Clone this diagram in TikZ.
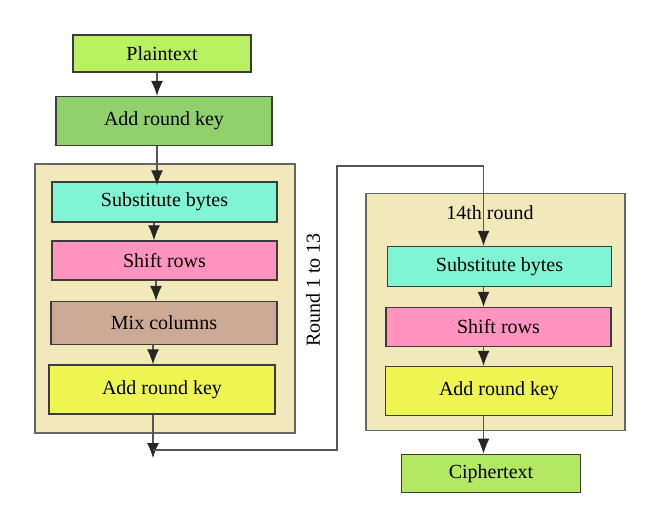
\documentclass[tikz,border=0pt]{standalone}
\usepackage{fontspec}
\setmainfont{Liberation Serif}
\usetikzlibrary{arrows.meta}
\definecolor{cPlain}{HTML}{B8F060}
\definecolor{cArkTop}{HTML}{90D16C}
\definecolor{cBeige}{HTML}{F2E9BA}
\definecolor{cSub}{HTML}{80F5D3}
\definecolor{cShift}{HTML}{FF95BF}
\definecolor{cMix}{HTML}{CDAA97}
\definecolor{cArk}{HTML}{EEF550}
\definecolor{cCipher}{HTML}{B5E862}
\definecolor{cBorder}{HTML}{3C3C3C}
\definecolor{cOuter}{HTML}{666666}
\definecolor{cLine}{HTML}{555555}
\begin{document}
\begin{tikzpicture}[x=1pt,y=-1pt,
  blk/.style={draw=cBorder, line width=1.3pt, inner sep=0pt, font=\fontsize{20}{24}\selectfont},
  outer/.style={draw=cOuter, line width=1.3pt, fill=cBeige, inner sep=0pt},
  lbl/.style={inner sep=0pt, font=\fontsize{20}{24}\selectfont},
  conn/.style={draw=cLine, line width=1.1pt},
  arr/.style={conn, -{Latex[length=15pt,width=12pt,color=black!85]}}]
\useasboundingbox (0,0) rectangle (660,529);
% outer boxes
\node[outer, minimum width=260pt, minimum height=269pt] (outerL) at (165,298.5) {};
\node[outer, minimum width=259pt, minimum height=237pt] (outerR) at (495.5,312) {};
% left column
\node[blk, fill=cPlain, minimum width=178pt, minimum height=37pt] (pt) at (162,53.5) {Plaintext};
\node[blk, fill=cArkTop, minimum width=216pt, minimum height=49pt] (ark0) at (164,121) {Add round key};
\node[blk, fill=cSub, minimum width=225pt, minimum height=40pt] (sb1) at (164.5,202) {Substitute bytes};
\node[blk, fill=cShift, minimum width=225pt, minimum height=39pt] (sr1) at (164.5,260.5) {Shift rows};
\node[blk, fill=cMix, minimum width=226pt, minimum height=43pt] (mc1) at (164,323) {Mix columns};
\node[blk, fill=cArk, minimum width=226pt, minimum height=49pt] (ar1) at (162,389.5) {Add round key};
\node[lbl, rotate=90] (rlab) at (313,290) {Round 1 to 13};
% right column
\node[lbl] (t14) at (490,213) {14th round};
\node[blk, fill=cSub, minimum width=224pt, minimum height=40pt] (sb2) at (499.5,266.5) {Substitute bytes};
\node[blk, fill=cShift, minimum width=225pt, minimum height=39pt] (sr2) at (498.5,327) {Shift rows};
\node[blk, fill=cArk, minimum width=227pt, minimum height=49pt] (ar2) at (499,391) {Add round key};
\node[blk, fill=cCipher, minimum width=179pt, minimum height=38pt] (ct) at (491,473.3) {Ciphertext};
% column coordinates
\coordinate (xa) at (157,0);
\coordinate (xb) at (154,0);
\coordinate (xc) at (156,0);
\coordinate (xd) at (153,0);
\coordinate (xr) at (483.5,0);
\coordinate (e1) at (153,458);
\coordinate (lp) at (153,450);
\coordinate (c1) at (337,450);
\coordinate (c2) at (337,166);
\coordinate (c3) at (483.5,166);
% arrows
\draw[arr] (pt.south -| xa) -- (ark0.north -| xa);
\draw[arr] (ark0.south -| xa) -- ([yshift=-4pt]sb1.north -| xa);
\draw[arr] (sb1.south -| xb) -- (sr1.north -| xb);
\draw[arr] (sr1.south -| xc) -- (mc1.north -| xc);
\draw[arr] (mc1.south -| xd) -- (ar1.north -| xd);
\draw[arr] (ar1.south -| xd) -- (e1);
\draw[arr] (lp) -- (c1) -- (c2) -- (c3) -- (sb2.north -| c3);
\draw[arr] (sb2.south -| xr) -- (sr2.north -| xr);
\draw[arr] (sr2.south -| xr) -- (ar2.north -| xr);
\draw[arr] (ar2.south -| xr) -- (ct.north -| xr);
\end{tikzpicture}
\end{document}
